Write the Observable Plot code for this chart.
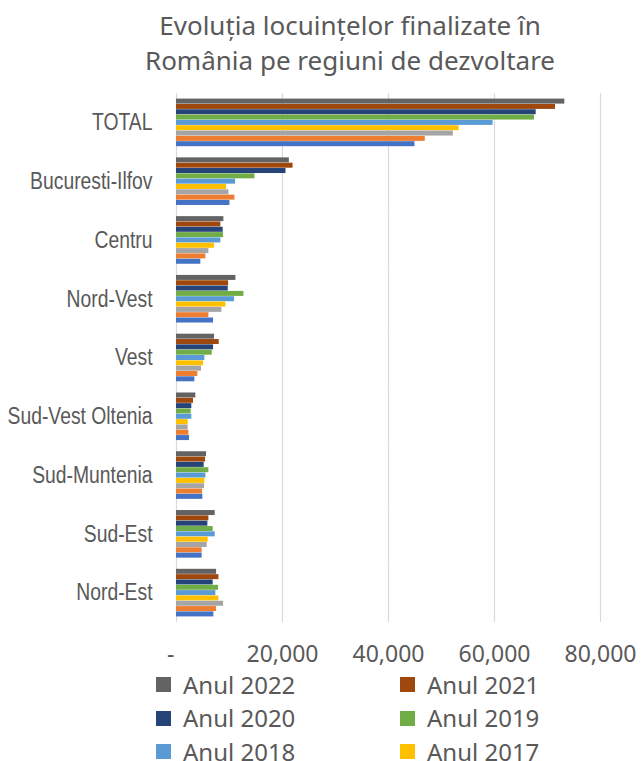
<!DOCTYPE html>
<html><head><meta charset="utf-8">
<script src="https://cdn.jsdelivr.net/npm/d3@7"></script>
<script src="https://cdn.jsdelivr.net/npm/@observablehq/plot@0.6"></script>
<style>
html,body{margin:0;padding:0;background:#fff;}
body{width:641px;height:761px;overflow:hidden;position:relative;font-family:"Noto Sans",sans-serif;color:#595959;}
#title{position:absolute;left:50px;width:600px;top:8px;text-align:center;font-size:26px;line-height:35px;color:#595959;}
#chart{position:absolute;left:0;top:0;}
.item{position:absolute;display:flex;align-items:center;font-size:24px;height:20px;line-height:20px;color:#595959;white-space:nowrap;}
.sw{width:15px;height:15px;margin-right:12px;flex:none;}
#chart g[aria-label="fy-axis tick label"] text{font-family:"Liberation Sans",Arial,sans-serif;font-size:23px;}
</style>
</head><body>
<div id="title">Evoluția locuințelor finalizate în<br>România pe regiuni de dezvoltare</div>
<div id="chart"></div>
<div id="legend"></div>
<script>
const regions = ["TOTAL","Bucuresti-Ilfov","Centru","Nord-Vest","Vest","Sud-Vest Oltenia","Sud-Muntenia","Sud-Est","Nord-Est"];
const years = ["Anul 2022","Anul 2021","Anul 2020","Anul 2019","Anul 2018","Anul 2017","Anul 2016","Anul 2015","Anul 2014"];
const colors = ["#636363","#9E480E","#264478","#70AD47","#5B9BD5","#FFC000","#A5A5A5","#ED7D31","#4472C4"];
const xTicks = [0, 20000, 40000, 60000, 80000];
const legendYears = ["Anul 2022","Anul 2021","Anul 2020","Anul 2019","Anul 2018","Anul 2017"];

const v2022 = [73270, 21290, 8940, 11210, 7180, 3650, 5670, 7300, 7560];
const v2021 = [71510, 21990, 8370, 9830, 8060, 3210, 5480, 6110, 8000];
const v2020 = [67860, 20660, 8810, 9760, 6990, 2890, 5220, 5920, 6920];
const v2019 = [67540, 14800, 8880, 12720, 6740, 2770, 6110, 6920, 7940];
const v2018 = [59730, 11150, 8370, 10960, 5350, 2890, 5540, 7300, 7430];
const v2017 = [53310, 9450, 7180, 9320, 5100, 2200, 5350, 5980, 8000];
const v2016 = [52230, 9890, 6110, 8560, 4720, 2200, 5290, 5790, 8880];
const v2015 = [46940, 11020, 5540, 6110, 4030, 2330, 4910, 4840, 7560];
const v2014 = [44990, 10080, 4590, 6990, 3460, 2460, 4970, 4840, 7050];

const series = [v2022, v2021, v2020, v2019, v2018, v2017, v2016, v2015, v2014];
const data = [];
years.forEach((yr, i) => regions.forEach((r, j) => data.push({region: r, year: yr, value: series[i][j]})));

const fmt = d3.format(",");
const plot = Plot.plot({
  width: 641, height: 670,
  marginTop: 93, marginBottom: 48, marginLeft: 176, marginRight: 41,
  style: {fontFamily: '"Noto Sans", sans-serif', fontSize: "23px", color: "#595959", background: "transparent"},
  x: {domain: [0, 80000], label: null},
  y: {domain: years, paddingInner: 0.06, paddingOuter: 1.05, round: false, axis: null, label: null},
  fy: {domain: regions, paddingInner: 0, paddingOuter: 0, round: false, label: null},
  color: {domain: years, range: colors},
  marks: [
    Plot.ruleX(xTicks, {stroke: "#d9d9d9", strokeWidth: 1.2}),
    Plot.barX(data, {x: "value", y: "year", fy: "region", fill: "year"}),
    Plot.axisX({ticks: xTicks, tickFormat: d => d === 0 ? "-\u2002" : fmt(d), tickSize: 0, tickPadding: 23, label: null, fill: "#595959"}),
    Plot.axisFy({tickSize: 0, tickPadding: 24, label: null, anchor: "left", fill: "#595959"})
  ]
});
document.getElementById("chart").appendChild(plot);

// narrow the category labels (emulates a condensed face)
plot.querySelectorAll('g[aria-label="fy-axis tick label"] text').forEach(t => {
  const w = t.getComputedTextLength();
  t.setAttribute("textLength", (w * 0.84).toFixed(1));
  t.setAttribute("lengthAdjust", "spacingAndGlyphs");
});

const legend = document.getElementById("legend");
const colX = [156, 400];
legendYears.forEach((yr, i) => {
  const col = i % 2, row = Math.floor(i / 2);
  const cy = 684.5 + row * 33.5;
  const div = document.createElement("div");
  div.className = "item";
  div.style.left = colX[col] + "px";
  div.style.top = (cy - 10) + "px";
  const sw = document.createElement("span");
  sw.className = "sw";
  sw.style.background = colors[years.indexOf(yr)];
  const t = document.createElement("span");
  t.textContent = yr;
  div.appendChild(sw); div.appendChild(t);
  legend.appendChild(div);
});
</script>
</body></html>
